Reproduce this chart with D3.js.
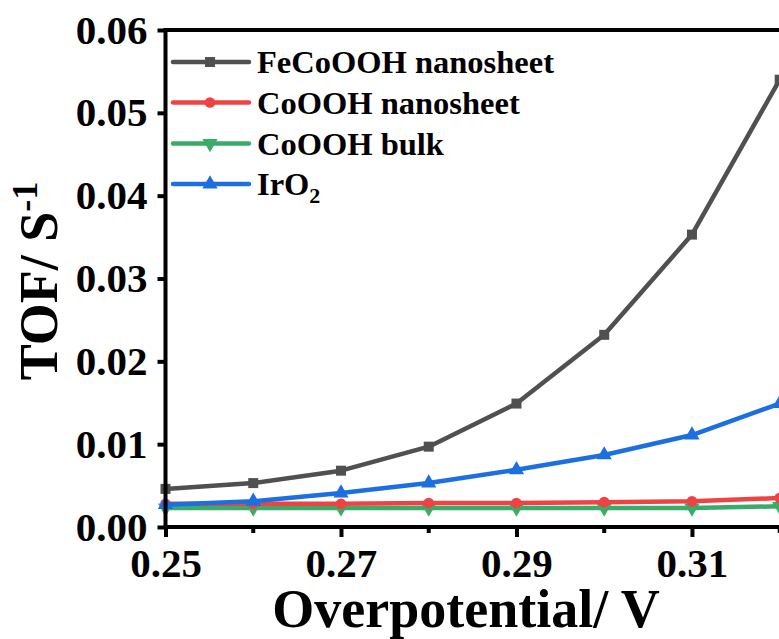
<!DOCTYPE html>
<html>
<head>
<meta charset="utf-8">
<script src="https://cdn.jsdelivr.net/npm/d3@7"></script>
<style>
  html, body { margin: 0; padding: 0; background: #fff; }
  svg { display: block; font-family: "Liberation Serif", "Times New Roman", serif; font-weight: bold; }
</style>
</head>
<body>
<svg id="chart" width="779" height="639"></svg>
<script>
// overpotential (V)
const overpotential = [0.25, 0.26, 0.27, 0.28, 0.29, 0.30, 0.31, 0.32];

// TOF values (s^-1)
const feCoOOHNanosheet = [0.0046, 0.0053, 0.0068, 0.0097, 0.0149, 0.0232, 0.0353, 0.0540];
const coOOHNanosheet   = [0.0028, 0.0028, 0.0028, 0.0029, 0.0029, 0.0030, 0.0031, 0.0035];
const coOOHBulk        = [0.0023, 0.0023, 0.0023, 0.0023, 0.0023, 0.0023, 0.0023, 0.0025];
const irO2             = [0.0027, 0.0031, 0.0041, 0.0053, 0.0069, 0.0087, 0.0111, 0.0149];

const xMajorTicks = [0.25, 0.27, 0.29, 0.31];
const xMinorTicks = [0.26, 0.28, 0.30, 0.32];
const yTicks = [0, 0.01, 0.02, 0.03, 0.04, 0.05, 0.06];

const series = [
    { name: 'FeCoOOH nanosheet', values: feCoOOHNanosheet, color: '#505050', symbol: d3.symbolSquare, size: 100, rotate: 0 },
    { name: 'CoOOH nanosheet', values: coOOHNanosheet, color: '#ef4343', symbol: d3.symbolCircle, size: 90, rotate: 0 },
    { name: 'CoOOH bulk', values: coOOHBulk, color: '#3aab68', symbol: d3.symbolTriangle, size: 100, rotate: 180 },
    { name: 'IrO2', values: irO2, color: '#1c6fe0', symbol: d3.symbolTriangle, size: 100, rotate: 0 }
];

const FONT = '"Liberation Serif", "Times New Roman", serif';

const svg = d3.select('#chart');

const x = d3.scaleLinear().domain([0.25, 0.32]).range([165.5, 779.7]);
const y = d3.scaleLinear().domain([0, 0.06]).range([527, 30]);

// frame: top and right edges
svg.append('path')
    .attr('d', `M${x(0.25)},${y(0.06)} H${x(0.32) + 1.5} V${y(0)}`)
    .attr('fill', 'none')
    .attr('stroke', '#000')
    .attr('stroke-width', 4);

// lines + markers
const line = d3.line()
    .x((d, i) => x(overpotential[i]))
    .y(d => y(d));

// draw bulk/nanosheet first so the upper curves sit on top like the figure
const drawOrder = [series[2], series[1], series[3], series[0]];
drawOrder.forEach(s => {
    const g = svg.append('g');
    g.append('path')
        .attr('d', line(s.values))
        .attr('fill', 'none')
        .attr('stroke', s.color)
        .attr('stroke-width', 4.5)
        .attr('stroke-linejoin', 'round');
    g.selectAll('path.pt')
        .data(s.values)
        .join('path')
        .attr('class', 'pt')
        .attr('d', d3.symbol().type(s.symbol).size(s.size))
        .attr('transform', (d, i) => `translate(${x(overpotential[i])},${y(d)}) rotate(${s.rotate})`)
        .attr('fill', s.color);
});

// y axis
const yAxis = svg.append('g')
    .attr('transform', `translate(${x(0.25)},0)`)
    .call(d3.axisLeft(y).tickValues(yTicks).tickSize(8).tickSizeOuter(0).tickPadding(10).tickFormat(d3.format('.2f')))
    .attr('font-family', FONT)
    .attr('font-size', 41);
yAxis.select('.domain').attr('stroke-width', 4).attr('d', `M0,${y(0) + 2}V${y(0.06) - 2}`);
yAxis.selectAll('.tick line').attr('stroke-width', 4);
yAxis.selectAll('text').attr('fill', '#000');

// x axis
const xAxis = svg.append('g')
    .attr('transform', `translate(0,${y(0)})`)
    .call(d3.axisBottom(x).tickValues(xMajorTicks).tickSize(10).tickSizeOuter(0).tickPadding(11).tickFormat(d3.format('.2f')))
    .attr('font-family', FONT)
    .attr('font-size', 41);
xAxis.select('.domain').attr('stroke-width', 4).attr('d', `M${x(0.25) - 2},0H${x(0.32) + 4}`);
xAxis.selectAll('.tick line').attr('stroke-width', 4);
xAxis.selectAll('text').attr('fill', '#000');

svg.append('g')
    .attr('transform', `translate(0,${y(0)})`)
    .selectAll('line')
    .data(xMinorTicks)
    .join('line')
    .attr('x1', d => x(d)).attr('x2', d => x(d))
    .attr('y1', 0).attr('y2', 6)
    .attr('stroke', '#000')
    .attr('stroke-width', 4);

// axis titles
svg.append('text')
    .attr('x', 466)
    .attr('y', 627)
    .attr('text-anchor', 'middle')
    .attr('font-size', 54)
    .text('Overpotential/ V');

const yTitle = svg.append('text')
    .attr('transform', 'translate(57,281) rotate(-90)')
    .attr('text-anchor', 'middle')
    .attr('font-size', 54);
yTitle.append('tspan').text('TOF/ S');
yTitle.append('tspan').attr('font-size', 36).attr('dy', -20).text('-1');

// legend
const legend = svg.append('g');
const legendY = [62, 102.5, 143.5, 184];
series.forEach((s, i) => {
    const ly = legendY[i];
    legend.append('line')
        .attr('x1', 173).attr('x2', 249)
        .attr('y1', ly).attr('y2', ly)
        .attr('stroke', s.color)
        .attr('stroke-width', 4.5)
        .attr('stroke-linecap', 'round');
    legend.append('path')
        .attr('d', d3.symbol().type(s.symbol).size(s.size)())
        .attr('transform', `translate(210,${ly}) rotate(${s.rotate})`)
        .attr('fill', s.color);
    const t = legend.append('text')
        .attr('x', 257)
        .attr('y', ly + 11)
        .attr('font-size', 32.5);
    if (s.name === 'IrO2') {
        t.append('tspan').text('IrO');
        t.append('tspan').attr('font-size', 22).attr('dy', 8).text('2');
    } else {
        t.text(s.name);
    }
});
</script>
</body>
</html>
